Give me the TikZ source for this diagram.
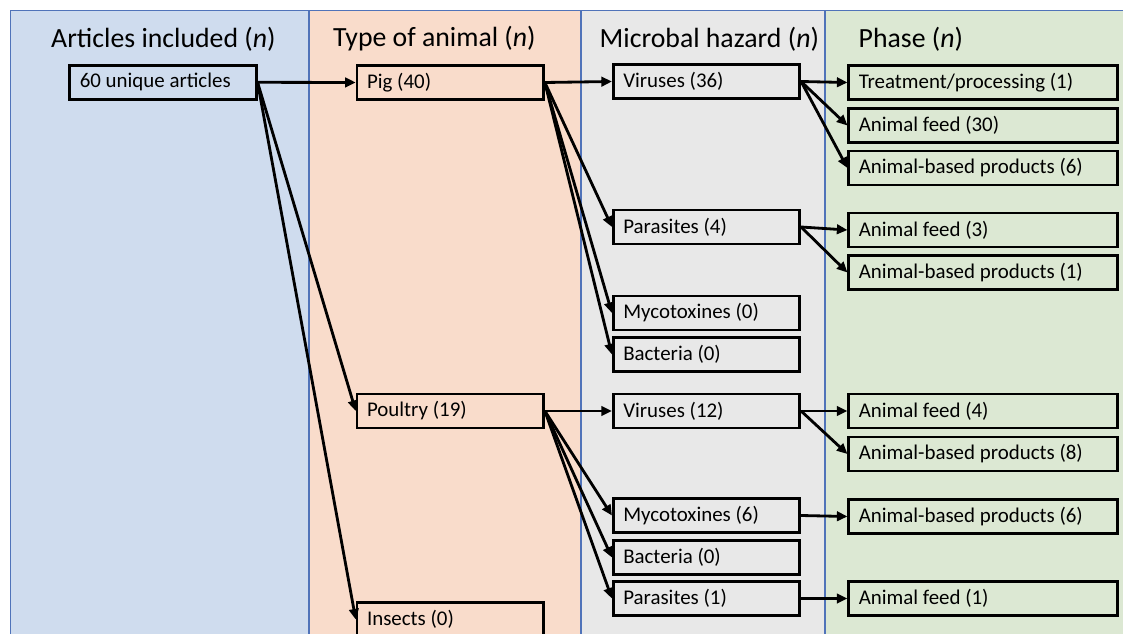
\documentclass[tikz,border=0pt]{standalone}
\usepackage{fontspec}
\setmainfont{Carlito}
\usetikzlibrary{positioning,arrows.meta}
\definecolor{bluepanel}{RGB}{207,220,238}
\definecolor{orangepanel}{RGB}{249,220,203}
\definecolor{graypanel}{RGB}{232,232,232}
\definecolor{greenpanel}{RGB}{220,232,211}
\definecolor{paneledge}{RGB}{80,115,185}

\begin{document}
\begin{tikzpicture}

    \tikzset{link/.style={-{Triangle[length=6pt,width=5.4pt]}, line width=1.6pt}}
    \tikzstyle{box}=[draw, line width=1.5pt, minimum height=0.68cm, inner xsep=0.2cm, text width=3.33cm, align=flush left, font=\fontsize{11.9}{14}\selectfont]
    \tikzstyle{phasebox}=[box, text width=4.97cm]
    \tikzstyle{header}=[anchor=west, font=\fontsize{15.8}{19}\selectfont]

    \clip (0,0) rectangle (22.46,-12.68);

    % COLUMNS
    \fill[white] (0,0) rectangle (22.46,-12.68);
    \draw[paneledge, line width=0.6pt, fill=bluepanel] (0.214,-0.214) rectangle (6.18,-13);
    \draw[paneledge, line width=0.6pt, fill=orangepanel] (6.18,-0.214) rectangle (11.62,-13);
    \draw[paneledge, line width=0.6pt, fill=graypanel] (11.62,-0.214) rectangle (16.50,-13);
    \draw[paneledge, line width=0.6pt, fill=greenpanel] (16.50,-0.214) rectangle (23,-13);

    % HEADERS
    \node(h_art) at (0.90,-0.78) [header] {Articles included (\textit{n})};
    \node(h_ani) at (6.54,-0.78) [header] {Type of animal (\textit{n})};
    \node(h_haz) at (11.87,-0.78) [header] {Microbal hazard (\textit{n})};
    \node(h_pha) at (17.05,-0.78) [header] {Phase (\textit{n})};

    % ARTICLES
    \node(art) at (3.26,-1.646) [box] {60 unique articles};

    % ANIMALS
    \node(pig) at (9.006,-1.65) [box] {Pig (40)};
    \node(poultry) at (9.006,-8.22) [box] {Poultry (19)};
    \node(insects) at (9.006,-12.39) [box] {Insects (0)};

    % HAZARDS
    % pig
    \node(vir1) at (14.13,-1.63) [box] {Viruses (36)};
    \node(par1) at (14.13,-4.54) [box] {Parasites (4)};
    \node(myc1) at (14.13,-6.26) [box] {Mycotoxines (0)};
    \node(bac1) at (14.13,-7.09) [box] {Bacteria (0)};
    % poultry
    \node(vir2) at (14.13,-8.22) [box] {Viruses (12)};
    \node(myc2) at (14.13,-10.31) [box] {Mycotoxines (6)};
    \node(bac2) at (14.13,-11.15) [box] {Bacteria (0)};
    \node(par2) at (14.13,-11.97) [box] {Parasites (1)};

    % PHASES
    \node(trt1) at (19.66,-1.65) [phasebox] {Treatment/processing (1)};
    \node(feed1) at (19.66,-2.51) [phasebox] {Animal feed (30)};
    \node(abp1) at (19.66,-3.36) [phasebox] {Animal-based products (6)};
    \node(feed2) at (19.66,-4.60) [phasebox] {Animal feed (3)};
    \node(abp2) at (19.66,-5.45) [phasebox] {Animal-based products (1)};
    \node(feed3) at (19.66,-8.22) [phasebox] {Animal feed (4)};
    \node(abp3) at (19.66,-9.08) [phasebox] {Animal-based products (8)};
    \node(abp4) at (19.66,-10.33) [phasebox] {Animal-based products (6)};
    \node(feed4) at (19.66,-11.97) [phasebox] {Animal feed (1)};

    % ARTICLES TO ANIMALS
    \draw[link] (art.east) -- (pig.west);
    \draw[link] (art.east) -- (poultry.west);
    \draw[link] (art.east) -- (insects.west);

    % ANIMALS TO HAZARDS
    \draw[link] (pig.east) -- (vir1.west);
    \draw[link] (pig.east) -- (par1.west);
    \draw[link] (pig.east) -- (myc1.west);
    \draw[link] (pig.east) -- (bac1.west);

    \draw[link] (poultry.east) -- (vir2.west);
    \draw[link] (poultry.east) -- (myc2.west);
    \draw[link] (poultry.east) -- (bac2.west);
    \draw[link] (poultry.east) -- (par2.west);

    % HAZARDS TO PHASES
    \draw[link] (vir1.east) -- (trt1.west);
    \draw[link] (vir1.east) -- (feed1.west);
    \draw[link] (vir1.east) -- (abp1.west);

    \draw[link] (par1.east) -- (feed2.west);
    \draw[link] (par1.east) -- (abp2.west);

    \draw[link] (vir2.east) -- (feed3.west);
    \draw[link] (vir2.east) -- (abp3.west);

    \draw[link] (myc2.east) -- (abp4.west);
    \draw[link] (par2.east) -- (feed4.west);

\end{tikzpicture}
\end{document}
